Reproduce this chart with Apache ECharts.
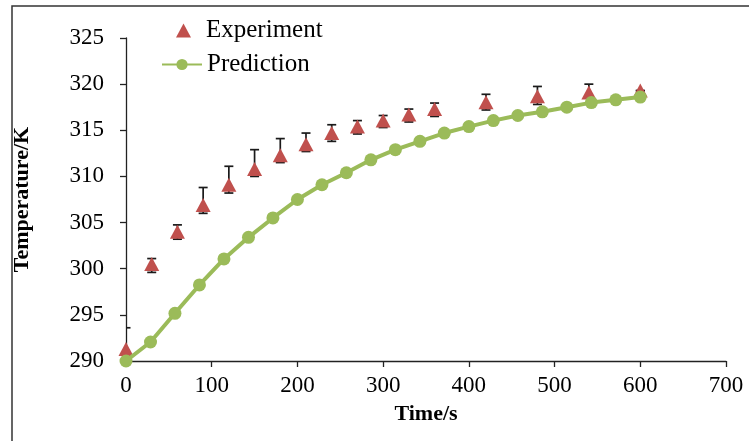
<!DOCTYPE html>
<html>
<head>
<meta charset="utf-8">
<script src="https://cdn.jsdelivr.net/npm/echarts@6/dist/echarts.min.js"></script>
<style>
html,body{margin:0;padding:0;background:#fff;}
#chart{width:749px;height:441px;}
</style>
</head>
<body>
<div id="chart"></div>
<script>
// Experiment data
const expTime  = [0, 30, 60, 90, 120, 150, 180, 210, 240, 270, 300, 330, 360, 420, 480, 540, 600];
const expTemp  = [291.3, 300.5, 304.0, 306.9, 309.1, 310.8, 312.3, 313.5, 314.7, 315.4, 316.05, 316.7, 317.3, 318.05, 318.7, 319.1, 319.3];
const expUpper = [293.6, 301.1, 304.75, 308.8, 311.1, 312.9, 314.1, 314.7, 315.6, 316.05, 316.6, 317.3, 317.95, 318.9, 319.75, 320.0, 319.3];
const expLower = [289.0, 299.6, 303.2, 306.0, 308.2, 310.0, 311.5, 312.7, 313.8, 314.6, 315.3, 315.9, 316.5, 317.2, 317.8, 318.5, 319.3];

// Prediction data
const predTime = [0, 28.6, 57.1, 85.7, 114.3, 142.9, 171.4, 200, 228.6, 257.1, 285.7, 314.3, 342.9, 371.4, 400, 428.6, 457.1, 485.7, 514.3, 542.9, 571.4, 600];
const predTemp = [290.0, 292.06, 295.17, 298.24, 301.06, 303.4, 305.5, 307.5, 309.1, 310.4, 311.8, 312.9, 313.8, 314.7, 315.4, 316.05, 316.6, 317.0, 317.5, 318.0, 318.3, 318.6];

// Axis settings
const xTicks = {min: 0, max: 700, interval: 100};
const yTicks = {min: 290, max: 325, interval: 5};

const FONT = '"Liberation Serif", "Times New Roman", serif';

const chart = echarts.init(document.getElementById('chart'), null, {renderer: 'canvas'});

const legendText = {fontFamily: FONT, fontSize: 25, color: '#000'};

const option = {
  backgroundColor: '#fff',
  animation: false,
  graphic: [{
    type: 'polyline',
    shape: {points: [[12, 441], [12, 6], [749, 6]]},
    style: {stroke: '#333', lineWidth: 1.5, fill: null},
    silent: true
  }],
  grid: {left: 126, right: 23, top: 38, bottom: 80, containLabel: false},
  legend: [{
    orient: 'vertical',
    left: 171,
    top: 13,
    itemWidth: 15,
    itemHeight: 14,
    textStyle: Object.assign({padding: [0, 0, 0, 10]}, legendText),
    data: [{name: 'Experiment'}]
  }, {
    orient: 'vertical',
    left: 156,
    top: 47,
    itemWidth: 40,
    itemHeight: 14,
    textStyle: legendText,
    data: [{name: 'Prediction'}]
  }],
  xAxis: {
    type: 'value',
    min: xTicks.min, max: xTicks.max, interval: xTicks.interval,
    name: 'Time/s',
    nameLocation: 'middle',
    nameGap: 42,
    nameTextStyle: {fontFamily: FONT, fontSize: 22, fontWeight: 'bold', color: '#000'},
    axisLine: {lineStyle: {color: '#222', width: 1.3}},
    axisTick: {show: true, inside: false, length: 6, lineStyle: {color: '#222', width: 1.3}},
    axisLabel: {fontFamily: FONT, fontSize: 23, color: '#000', margin: 13},
    splitLine: {show: false}
  },
  yAxis: {
    type: 'value',
    min: yTicks.min, max: yTicks.max, interval: yTicks.interval,
    name: 'Temperature/K',
    nameLocation: 'middle',
    nameGap: 93,
    nameRotate: 90,
    nameTextStyle: {fontFamily: FONT, fontSize: 22, fontWeight: 'bold', color: '#000'},
    axisLine: {show: true, lineStyle: {color: '#222', width: 1.3}},
    axisTick: {show: true, inside: false, length: 6, lineStyle: {color: '#222', width: 1.3}},
    axisLabel: {fontFamily: FONT, fontSize: 23, color: '#000', margin: 22},
    splitLine: {show: false}
  },
  series: [
    {
      name: 'errorbars',
      type: 'custom',
      clip: true,
      z: 1,
      data: expTime.map((t, i) => [t, expLower[i], expUpper[i]]),
      encode: {x: 0, y: [1, 2]},
      renderItem: function (params, api) {
        const x = api.value(0);
        const pLo = api.coord([x, api.value(1)]);
        const pHi = api.coord([x, api.value(2)]);
        const w = 4.5;
        const st = {stroke: '#1a1a1a', lineWidth: 1.7};
        return {
          type: 'group',
          children: [
            {type: 'line', shape: {x1: pHi[0], y1: pHi[1], x2: pLo[0], y2: pLo[1]}, style: st},
            {type: 'line', shape: {x1: pHi[0] - w, y1: pHi[1], x2: pHi[0] + w, y2: pHi[1]}, style: st},
            {type: 'line', shape: {x1: pLo[0] - w, y1: pLo[1], x2: pLo[0] + w, y2: pLo[1]}, style: st}
          ]
        };
      }
    },
    {
      name: 'Experiment',
      type: 'scatter',
      z: 2,
      symbol: 'triangle',
      symbolSize: [15, 14],
      itemStyle: {color: '#C0504D', opacity: 1},
      data: expTime.map((t, i) => [t, expTemp[i]])
    },
    {
      name: 'Prediction',
      type: 'line',
      z: 3,
      symbol: 'circle',
      symbolSize: 13,
      showAllSymbol: true,
      lineStyle: {color: '#9BBB59', width: 4},
      itemStyle: {color: '#9BBB59', borderWidth: 0},
      data: predTime.map((t, i) => [t, predTemp[i]])
    }
  ]
};
chart.setOption(option);
</script>
</body>
</html>
